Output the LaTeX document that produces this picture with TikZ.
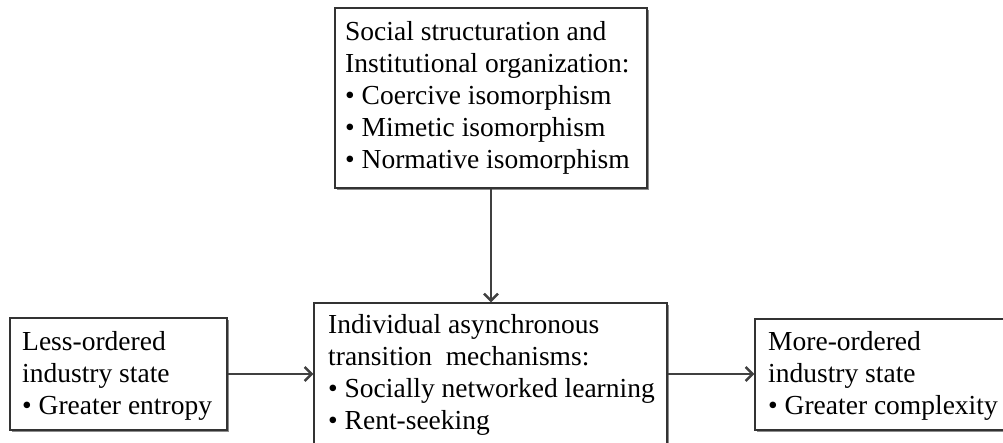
\documentclass[tikz,border=0pt]{standalone}
\usepackage{fontspec}
\setmainfont{Liberation Serif}
\usetikzlibrary{arrows.meta,shadows}
\begin{document}
\begin{tikzpicture}[x=1pt,y=1pt,
  boxshape/.style={draw=black!80, line width=1.3pt, fill=white, inner sep=0pt,
    drop shadow={shadow xshift=1.5pt, shadow yshift=-2pt, fill=black!45, opacity=1}},
  boxtext/.style={inner sep=0pt, anchor=north west, align=left, text=black,
    font=\fontsize{27.5}{32}\selectfont},
  conn/.style={draw=black!75, line width=1.4pt, -{Straight Barb[length=7pt,width=14pt,line width=2.4pt]}}
]
\useasboundingbox (0,0) rectangle (1003,443);
\clip (0,0) rectangle (1003,443);
\fill[white] (0,0) rectangle (1003,443);
\node[boxshape, minimum width=312pt, minimum height=180pt] (topbox) at (491,345) {};
\node[boxshape, minimum width=353pt, minimum height=160pt] (midbox) at (490.5,60) {};
\node[boxshape, minimum width=217pt, minimum height=112pt] (leftbox) at (118.5,69) {};
\node[boxshape, minimum width=265pt, minimum height=111pt] (rightbox) at (887.5,68.5) {};
\node[boxtext] (toptext) at (345,422) {Social structuration and\\Institutional organization:\\• Coercive isomorphism\\• Mimetic isomorphism\\• Normative isomorphism};
\node[boxtext] (midtext) at (328,129) {Individual asynchronous\\transition\ \ mechanisms:\\• Socially networked learning\\• Rent-seeking};
\node[boxtext] (lefttext) at (22,112) {Less-ordered\\industry state\\• Greater entropy};
\node[boxtext] (righttext) at (768,112) {More-ordered\\industry state\\• Greater complexity};
\draw[conn] (topbox.south) -- (topbox.south |- midbox.north);
\draw[conn] (leftbox.east) -- (leftbox.east -| midbox.west);
\draw[conn] (midbox.east |- leftbox.east) -- (rightbox.west |- leftbox.east);
\end{tikzpicture}
\end{document}
